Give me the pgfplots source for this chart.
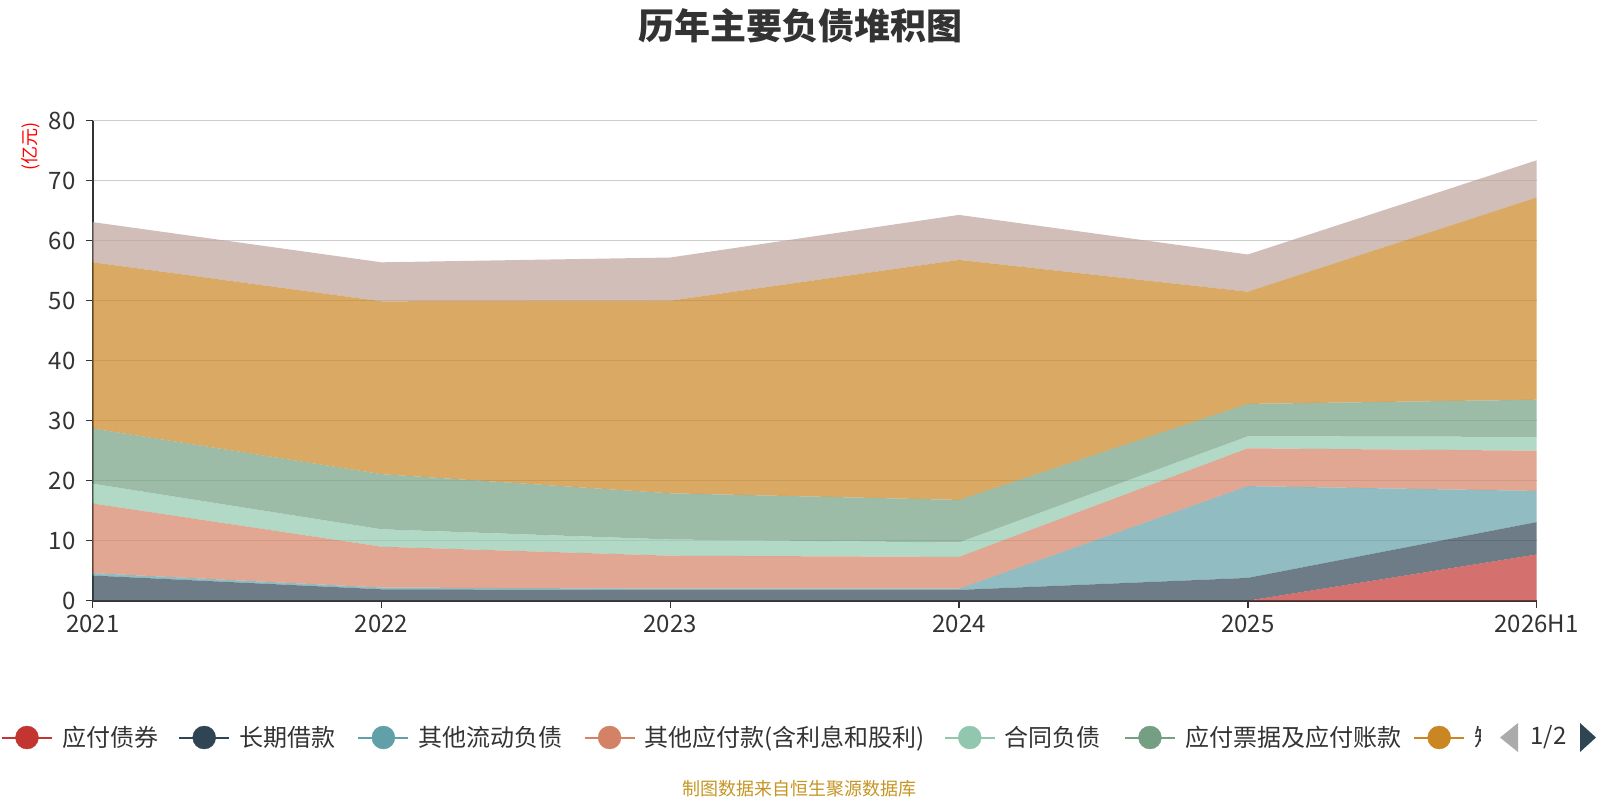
\documentclass[border=0pt]{standalone}
\usepackage{fontspec}
\setmainfont{Noto Sans CJK SC}
\usepackage{pgfplots}
\pgfplotsset{compat=1.18}
\definecolor{cA}{HTML}{C23531}
\definecolor{cB}{HTML}{2F4554}
\definecolor{cC}{HTML}{61A0A8}
\definecolor{cD}{HTML}{D48265}
\definecolor{cE}{HTML}{91C7AE}
\definecolor{cF}{HTML}{749F83}
\definecolor{cG}{HTML}{CA8622}
\definecolor{cH}{HTML}{BDA29A}
\definecolor{txt}{HTML}{333333}
\definecolor{gridc}{HTML}{CCCCCC}
\definecolor{src}{HTML}{C59524}
\begin{document}
\begin{tikzpicture}
\path[use as bounding box] (0bp,0bp) rectangle (1600bp,-800bp);
\begin{axis}[
  at={(92.7bp,-600.7bp)}, anchor=south west,
  scale only axis, width=1444bp, height=480bp,
  xmin=0, xmax=5, ymin=0, ymax=80,
  axis x line*=bottom, axis y line*=left,
  axis line style={color=txt, line width=2bp},
  xtick={0,1,2,3,4,5},
  xticklabels={2021,2022,2023,2024,2025,2026H1},
  ytick={0,10,...,80},
  tick align=outside, major tick length=7bp,
  tick style={color=txt, line width=1.5bp},
  ymajorgrids, grid style={color=gridc, line width=1.5bp},
  /pgf/number format/assume math mode=true,
  tick label style={font=\fontsize{24bp}{28bp}\selectfont, color=txt},
  yticklabel style={inner sep=0pt, xshift=-10bp},
  xticklabel style={inner sep=0pt, yshift=-7bp},
  stack plots=y,
  legend columns=8,
  legend style={at={(-0.0635,-0.285)}, anchor=west, draw=none, fill=none,
    inner sep=0pt, outer sep=0pt,
    nodes={inner sep=0pt, text=txt, font=\fontsize{24bp}{28bp}\selectfont},
    /tikz/every odd column/.style={column sep=0pt},
    /tikz/every even column/.style={column sep=0pt}},
  legend cell align=left,
  legend image code/.code={
    \draw[#1, line width=2bp] (0bp,0bp) -- (50bp,0bp);
    \fill[#1] (25bp,0bp) circle (11.5bp);
    \path (60bp,0bp);
  },
]
\addlegendimage{draw=cA, fill=cA}
\addlegendimage{draw=cB, fill=cB}
\addlegendimage{draw=cC, fill=cC}
\addlegendimage{draw=cD, fill=cD}
\addlegendimage{draw=cE, fill=cE}
\addlegendimage{draw=cF, fill=cF}
\addlegendimage{draw=cG, fill=cG}
% 应付债券
\addplot[draw=none, fill=cA, fill opacity=0.7] coordinates {(0,0) (1,0) (2,0) (3,0) (4,0) (5,7.7)} \closedcycle;
% 长期借款
\addplot[draw=none, fill=cB, fill opacity=0.7] coordinates {(0,4.2) (1,1.9) (2,1.8) (3,1.8) (4,3.8) (5,5.4)} \closedcycle;
% 其他流动负债
\addplot[draw=none, fill=cC, fill opacity=0.7] coordinates {(0,0.4) (1,0.3) (2,0.2) (3,0.2) (4,15.3) (5,5.2)} \closedcycle;
% 其他应付款(含利息和股利)
\addplot[draw=none, fill=cD, fill opacity=0.7] coordinates {(0,11.6) (1,6.8) (2,5.5) (3,5.3) (4,6.3) (5,6.7)} \closedcycle;
% 合同负债
\addplot[draw=none, fill=cE, fill opacity=0.7] coordinates {(0,3.3) (1,2.9) (2,2.7) (3,2.4) (4,2.0) (5,2.3)} \closedcycle;
% 应付票据及应付账款
\addplot[draw=none, fill=cF, fill opacity=0.7] coordinates {(0,9.2) (1,9.2) (2,7.7) (3,7.1) (4,5.4) (5,6.2)} \closedcycle;
% 短期借款
\addplot[draw=none, fill=cG, fill opacity=0.7] coordinates {(0,27.7) (1,28.8) (2,32.1) (3,40.0) (4,18.7) (5,33.7)} \closedcycle;
% 其他
\addplot[draw=none, fill=cH, fill opacity=0.7] coordinates {(0,6.7) (1,6.5) (2,7.2) (3,7.5) (4,6.2) (5,6.2)} \closedcycle;
\legend{\makebox[116bp][l]{应付债券},\makebox[118bp][l]{长期借款},\makebox[165bp][l]{其他流动负债},\makebox[299bp][l]{其他应付款(含利息和股利)},\makebox[119bp][l]{合同负债},\makebox[228bp][l]{应付票据及应付账款},\makebox[20bp][l]{短}}
\end{axis}
\fill[white] (1481bp,-718bp) rectangle (1600bp,-757bp);
\fill[black!33] (1500bp,-737.5bp) -- (1518bp,-723bp) -- (1518bp,-752bp) -- cycle;
\fill[cB] (1580bp,-723bp) -- (1580bp,-752bp) -- (1596bp,-737.5bp) -- cycle;
\node[font=\fontsize{24bp}{28bp}\selectfont, text=txt] at (1548.5bp,-737.5bp) {1/2};
\node[font=\fontsize{36bp}{40bp}\selectfont\bfseries, text=txt] at (800bp,-26bp) {历年主要负债堆积图};
\node[font=\fontsize{18bp}{22bp}\selectfont, text=red, rotate=90] at (31bp,-146bp) {(亿元)};
\node[font=\fontsize{18bp}{22bp}\selectfont, text=src] at (799bp,-789bp) {制图数据来自恒生聚源数据库};
\end{tikzpicture}
\end{document}
